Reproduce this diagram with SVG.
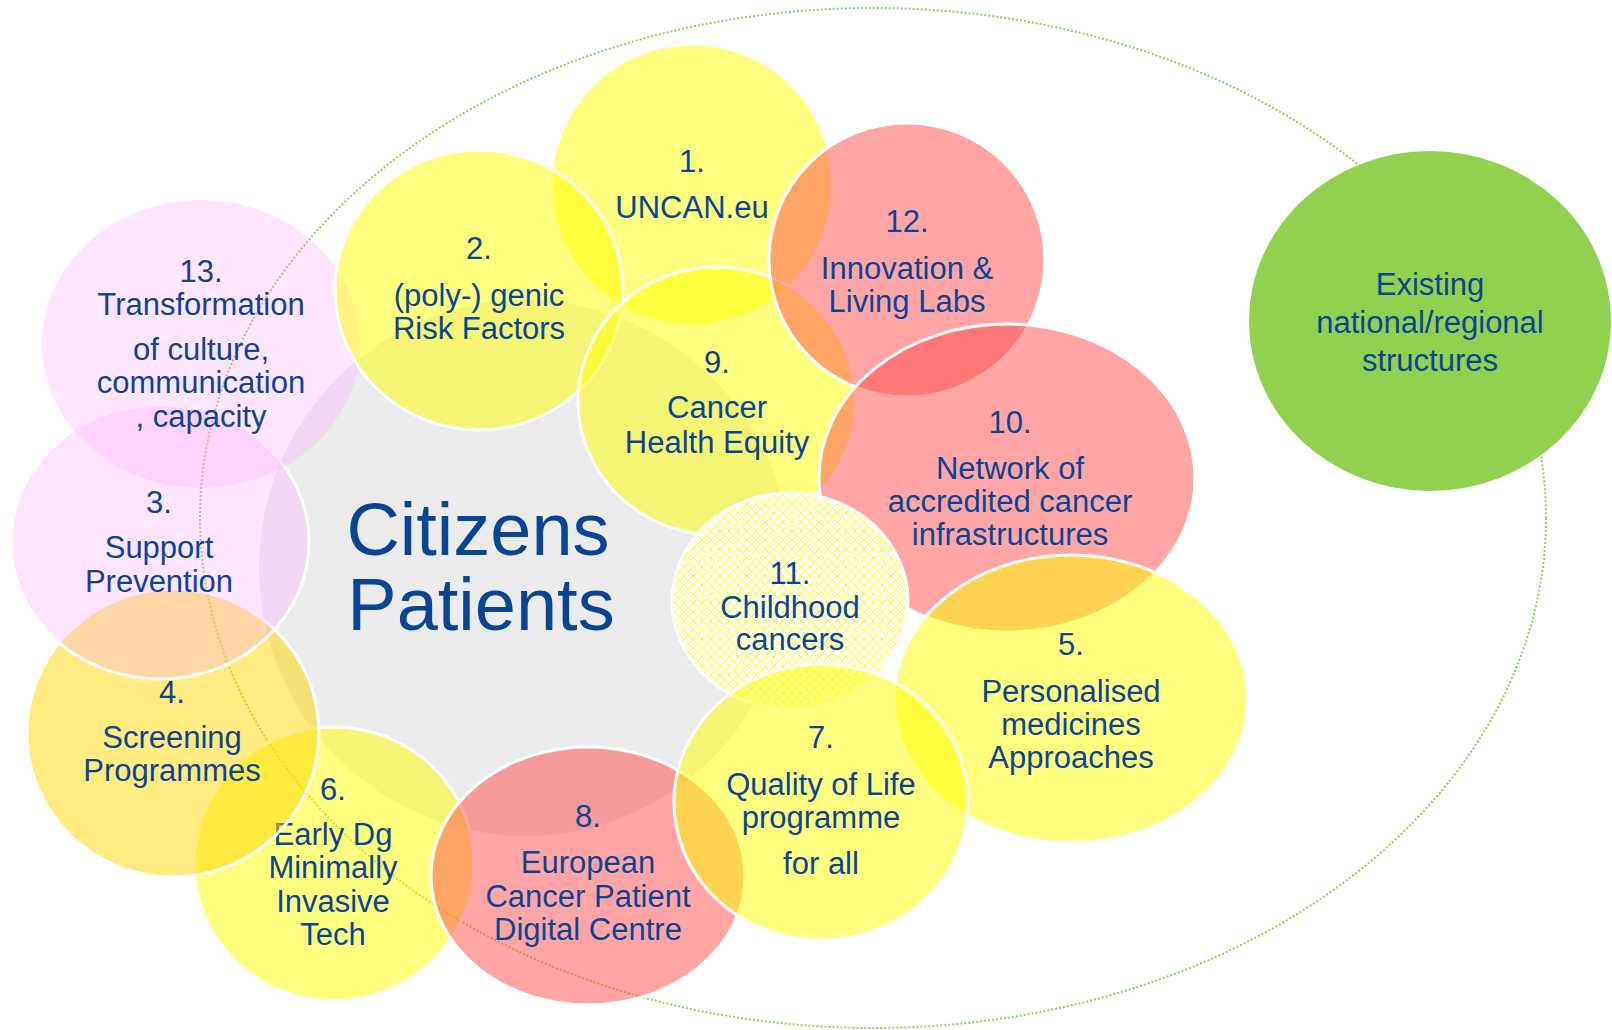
<svg xmlns="http://www.w3.org/2000/svg" width="1612" height="1030" viewBox="0 0 1612 1030">
<defs>
<pattern id="hatch" patternUnits="userSpaceOnUse" width="9" height="9">
<rect width="9" height="9" fill="#ffffff"/>
<path d="M0,0 L9,9 M9,0 L0,9" stroke="#FFFF00" stroke-width="1" fill="none"/>
</pattern>
<style>
.t{font-family:"Liberation Sans",Arial,sans-serif;font-size:31px;fill:#0a4595;text-anchor:middle}
.big{font-size:74px}
.y{fill:#FFFF00;fill-opacity:.5;stroke:#fff;stroke-width:3}
.r{fill:#FF4B4B;fill-opacity:.5;stroke:#fff;stroke-width:3}
.o{fill:#FFD800;fill-opacity:.5;stroke:#fff;stroke-width:3}
.p{fill:#FFA8FF;fill-opacity:.3}
.ps{fill:#FFA8FF;fill-opacity:.3;stroke:#fff;stroke-width:3}
.h{fill:url(#hatch);stroke:#fff;stroke-width:3}
</style>
</defs>
<rect width="1612" height="1030" fill="#ffffff"/>
<g id="boundary">
<ellipse cx="873" cy="518" rx="673" ry="510" fill="none" stroke="#92D050" stroke-width="2" stroke-dasharray="2 2"/>
</g>
<g id="connectors"></g>
<g id="center">
<ellipse cx="525" cy="568" rx="266" ry="268" fill="#EBEBEB"/>
<text class="t big" x="478" y="555">Citizens</text>
<text class="t big" x="481" y="630">Patients</text>
</g>
<g id="n6">
<ellipse class="y" cx="334" cy="864" rx="140" ry="137"/>
<text class="t" x="333" y="800">6.</text>
<text class="t" x="333" y="845">Early Dg</text>
<text class="t" x="333" y="878">Minimally</text>
<text class="t" x="333" y="912">Invasive</text>
<text class="t" x="333" y="945">Tech</text>
</g>
<g id="n8">
<ellipse class="r" cx="588" cy="876" rx="157" ry="129"/>
<text class="t" x="588" y="827">8.</text>
<text class="t" x="588" y="873">European</text>
<text class="t" x="588" y="907">Cancer Patient</text>
<text class="t" x="588" y="940">Digital Centre</text>
</g>
<g id="n4">
<ellipse class="o" cx="173" cy="733" rx="146" ry="144"/>
<text class="t" x="172" y="703">4.</text>
<text class="t" x="172" y="748">Screening</text>
<text class="t" x="172" y="781">Programmes</text>
</g>
<g id="n3">
<ellipse class="ps" cx="160" cy="542" rx="149" ry="137"/>
<text class="t" x="159" y="513">3.</text>
<text class="t" x="159" y="558">Support</text>
<text class="t" x="159" y="592">Prevention</text>
</g>
<g id="n13">
<ellipse class="p" cx="201" cy="344" rx="159" ry="144"/>
<text class="t" x="201" y="282">13.</text>
<text class="t" x="201" y="315">Transformation</text>
<text class="t" x="201" y="360">of culture,</text>
<text class="t" x="201" y="393">communication</text>
<text class="t" x="201" y="427">, capacity</text>
</g>
<g id="n1">
<ellipse class="y" cx="692" cy="185" rx="141" ry="141"/>
<text class="t" x="692" y="172">1.</text>
<text class="t" x="692" y="218">UNCAN.eu</text>
</g>
<g id="n2">
<ellipse class="y" cx="479" cy="290" rx="144" ry="140"/>
<text class="t" x="479" y="259">2.</text>
<text class="t" x="479" y="306">(poly-) genic</text>
<text class="t" x="479" y="339">Risk Factors</text>
</g>
<g id="n9">
<ellipse class="y" cx="717" cy="401" rx="139" ry="134"/>
<text class="t" x="717" y="373">9.</text>
<text class="t" x="717" y="418">Cancer</text>
<text class="t" x="717" y="453">Health Equity</text>
</g>
<g id="n12">
<ellipse class="r" cx="907" cy="260" rx="138" ry="137"/>
<text class="t" x="907" y="232">12.</text>
<text class="t" x="907" y="279">Innovation &amp;</text>
<text class="t" x="907" y="312">Living Labs</text>
</g>
<g id="n10">
<ellipse class="r" cx="1007" cy="478" rx="188" ry="154"/>
<text class="t" x="1010" y="433">10.</text>
<text class="t" x="1010" y="479">Network of</text>
<text class="t" x="1010" y="512">accredited cancer</text>
<text class="t" x="1010" y="545">infrastructures</text>
</g>
<g id="n11">
<ellipse class="h" cx="790" cy="601" rx="118" ry="108"/>
<text class="t" x="790" y="584">11.</text>
<text class="t" x="790" y="618">Childhood</text>
<text class="t" x="790" y="650">cancers</text>
</g>
<g id="n5">
<ellipse class="y" cx="1071" cy="699" rx="177" ry="144"/>
<text class="t" x="1071" y="655">5.</text>
<text class="t" x="1071" y="702">Personalised</text>
<text class="t" x="1071" y="735">medicines</text>
<text class="t" x="1071" y="768">Approaches</text>
</g>
<g id="n7">
<ellipse class="y" cx="821" cy="802" rx="147" ry="138"/>
<text class="t" x="821" y="748">7.</text>
<text class="t" x="821" y="795">Quality of Life</text>
<text class="t" x="821" y="828">programme</text>
<text class="t" x="821" y="874">for all</text>
</g>
<g id="existing">
<ellipse cx="1430" cy="321" rx="181" ry="170" fill="#92D050"/>
<text class="t" x="1430" y="295">Existing</text>
<text class="t" x="1430" y="333">national/regional</text>
<text class="t" x="1430" y="371">structures</text>
</g>
</svg>
